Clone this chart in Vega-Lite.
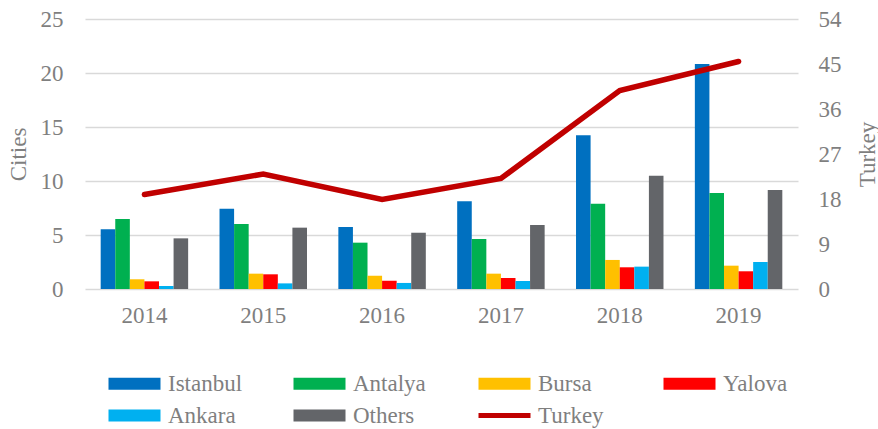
{
  "$schema": "https://vega.github.io/schema/vega-lite/v6.json",
  "width": 713,
  "height": 270,
  "autosize": "none",
  "padding": {"left": 85, "top": 19, "right": 80, "bottom": 140},
  "background": "white",
  "config": {
    "font": "Liberation Serif",
    "view": {"stroke": null},
    "axis": {"labelFont": "Liberation Serif", "titleFont": "Liberation Serif", "labelColor": "#7f7f7f", "titleColor": "#7f7f7f", "labelFontSize": 23, "titleFontSize": 23, "titleFontWeight": "normal"},
    "legend": {"labelFont": "Liberation Serif", "labelFontSize": 23, "labelColor": "#7f7f7f"}
  },
  "data": {
    "values": [
      {"year": "2014", "series": "Istanbul", "value": 5.53},
      {"year": "2014", "series": "Antalya", "value": 6.48},
      {"year": "2014", "series": "Bursa", "value": 0.9},
      {"year": "2014", "series": "Yalova", "value": 0.71},
      {"year": "2014", "series": "Ankara", "value": 0.28},
      {"year": "2014", "series": "Others", "value": 4.69},
      {"year": "2015", "series": "Istanbul", "value": 7.44},
      {"year": "2015", "series": "Antalya", "value": 6.02},
      {"year": "2015", "series": "Bursa", "value": 1.42},
      {"year": "2015", "series": "Yalova", "value": 1.36},
      {"year": "2015", "series": "Ankara", "value": 0.52},
      {"year": "2015", "series": "Others", "value": 5.68},
      {"year": "2016", "series": "Istanbul", "value": 5.74},
      {"year": "2016", "series": "Antalya", "value": 4.29},
      {"year": "2016", "series": "Bursa", "value": 1.23},
      {"year": "2016", "series": "Yalova", "value": 0.77},
      {"year": "2016", "series": "Ankara", "value": 0.56},
      {"year": "2016", "series": "Others", "value": 5.21},
      {"year": "2017", "series": "Istanbul", "value": 8.12},
      {"year": "2017", "series": "Antalya", "value": 4.63},
      {"year": "2017", "series": "Bursa", "value": 1.42},
      {"year": "2017", "series": "Yalova", "value": 1.02},
      {"year": "2017", "series": "Ankara", "value": 0.74},
      {"year": "2017", "series": "Others", "value": 5.93},
      {"year": "2018", "series": "Istanbul", "value": 14.23},
      {"year": "2018", "series": "Antalya", "value": 7.9},
      {"year": "2018", "series": "Bursa", "value": 2.69},
      {"year": "2018", "series": "Yalova", "value": 2.01},
      {"year": "2018", "series": "Ankara", "value": 2.07},
      {"year": "2018", "series": "Others", "value": 10.49},
      {"year": "2019", "series": "Istanbul", "value": 20.83},
      {"year": "2019", "series": "Antalya", "value": 8.89},
      {"year": "2019", "series": "Bursa", "value": 2.16},
      {"year": "2019", "series": "Yalova", "value": 1.64},
      {"year": "2019", "series": "Ankara", "value": 2.5},
      {"year": "2019", "series": "Others", "value": 9.17},
      {"year": "2014", "series": "Turkey", "value": 18.9},
      {"year": "2015", "series": "Turkey", "value": 23.0},
      {"year": "2016", "series": "Turkey", "value": 17.9},
      {"year": "2017", "series": "Turkey", "value": 22.1},
      {"year": "2018", "series": "Turkey", "value": 39.7},
      {"year": "2019", "series": "Turkey", "value": 45.5}
    ]
  },
  "encoding": {
    "x": {"field": "year", "type": "nominal", "scale": {"paddingInner": 0.264, "paddingOuter": 0.132},
      "axis": {"title": null, "labelAngle": 0, "domain": false, "ticks": false, "labelPadding": 15, "grid": false}}
  },
  "layer": [
    {
      "transform": [{"filter": "datum.series !== 'Turkey'"}],
      "mark": {"type": "bar"},
      "encoding": {
        "xOffset": {"field": "series", "type": "nominal", "scale": {"domain": ["Istanbul", "Antalya", "Bursa", "Yalova", "Ankara", "Others"], "paddingInner": 0, "paddingOuter": 0}},
        "y": {"field": "value", "type": "quantitative", "scale": {"domain": [0, 25]},
          "axis": {"title": "Cities", "values": [0, 5, 10, 15, 20, 25], "domain": false, "ticks": false, "labelPadding": 22, "titleX": -67, "titleY": 135, "titleAngle": 270, "titleAlign": "center", "titleBaseline": "middle", "gridColor": "#d9d9d9", "gridWidth": 1.5}},
        "color": {"field": "series", "type": "nominal",
          "scale": {"domain": ["Istanbul", "Antalya", "Bursa", "Yalova", "Ankara", "Others", "Turkey"], "range": ["#0070c0", "#00b050", "#ffc000", "#ff0000", "#00b0f0", "#636569", "#c00000"]},
          "legend": {"title": null, "orient": "none", "legendX": 38, "legendY": 353, "direction": "horizontal", "columns": 4, "gridAlign": "all", "columnPadding": 50, "rowPadding": 8, "labelOffset": 22,
            "symbolType": "M-2.6,-0.6H2.6V0.6H-2.6Z", "symbolSize": 400, "symbolStrokeWidth": 0,
            "encode": {"symbols": {"update": {"shape": {"signal": "datum.value === 'Turkey' ? 'M-2.6,-0.25H2.6V0.25H-2.6Z' : 'M-2.6,-0.6H2.6V0.6H-2.6Z'"}, "fill": {"signal": "scale('color', datum.value)"}, "fillOpacity": {"value": 1}, "opacity": {"value": 1}, "strokeWidth": {"value": 0}}}}}
        }
      }
    },
    {
      "transform": [{"filter": "datum.series === 'Turkey'"}],
      "mark": {"type": "line", "strokeWidth": 5.5, "strokeCap": "round", "strokeJoin": "miter"},
      "encoding": {
        "y": {"field": "value", "type": "quantitative", "scale": {"domain": [0, 54]},
          "axis": {"title": "Turkey", "orient": "right", "values": [0, 9, 18, 27, 36, 45, 54], "domain": false, "ticks": false, "grid": false, "labelPadding": 20, "titleX": 69, "titleY": 135, "titleAngle": 270, "titleAlign": "center", "titleBaseline": "middle"}},
        "color": {"field": "series", "type": "nominal"}
      }
    }
  ],
  "resolve": {"scale": {"y": "independent"}}
}
